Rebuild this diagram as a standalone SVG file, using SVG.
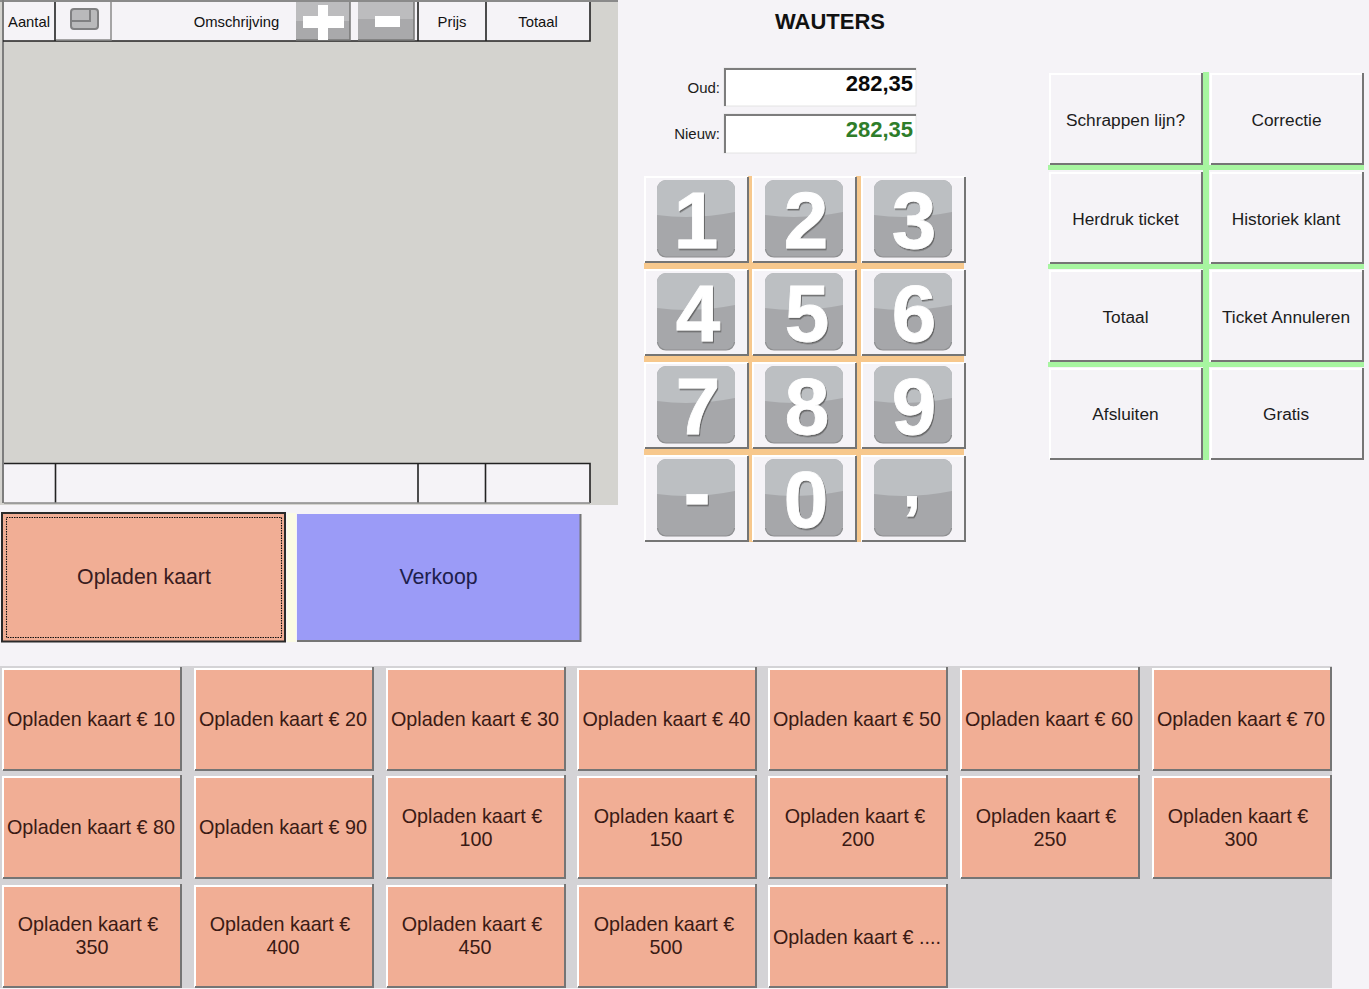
<svg xmlns="http://www.w3.org/2000/svg" xmlns:xlink="http://www.w3.org/1999/xlink" width="1369" height="989" viewBox="0 0 1369 989">
<style>
text{font-family:"Liberation Sans",Arial,sans-serif;text-anchor:middle}
.hd{font-size:14.800px;fill:#111}
.act{font-size:17.300px;fill:#1c1c1c}
.lbl{font-size:15px;fill:#1c1c1c;text-anchor:end}
.val{font-size:22px;font-weight:bold;text-anchor:end}
.big{font-size:21.300px;fill:#3a1c20}
.load{font-size:19.750px;fill:#3a1a14}
.dig{font-size:80px;font-weight:bold;fill:#fff;stroke:#fff;stroke-width:0.800;filter:url(#ds)}
.hi{fill:none;stroke:#fff;stroke-width:2}
.lo{fill:none;stroke:#757575;stroke-width:2}
.orange{fill:#f7c88d}
.green{fill:#a7f5a0}
.cell{fill:#f5f3f7}
.ln{stroke:#222;stroke-width:1.600;fill:none}
</style>
<defs>
<filter id="ds" x="-10%" y="-10%" width="125%" height="125%"><feDropShadow dx="1" dy="1.500" stdDeviation="0.700" flood-color="#555" flood-opacity="0.800"/></filter>
<g id="loadBtn"><rect width="178" height="101" fill="#f1ae95"/><path class="hi" d="M0 101V0H178"/><path class="lo" d="M0 101H178V-2"/></g>
<g id="actBtn"><rect width="152" height="90" class="cell"/><path class="hi" d="M0 90V0H152"/><path class="lo" d="M0 90H152V-1"/></g>
<g id="keyBg"><rect width="103" height="85" class="cell"/><path class="hi" d="M0 85V0H103"/><path class="lo" d="M0 85H103V0"/><rect x="12" y="3" width="78" height="77" rx="9" fill="#a6a7aa"/><path d="M12 38V12a9 9 0 0 1 9-9H81a9 9 0 0 1 9 9V35Q50 43 12 38Z" fill="#bcbfc2"/><path d="M12.500 72a8.500 8.500 0 0 0 8.500 8H81a8.500 8.500 0 0 0 8.500-8" fill="none" stroke="#8d8e90" stroke-width="1.200"/></g>
</defs>
<rect width="1369" height="989" fill="#f5f3f7"/>

<g id="ticket-panel">
<rect x="0" y="0" width="618" height="505" fill="#d4d3cf"/>
<rect x="0" y="0" width="618" height="2" fill="#8a8a8a"/>
<rect x="2" y="0" width="2" height="503" fill="#7d7d7d"/>
</g>
<g id="ticket-header">
<rect x="4" y="2" width="586" height="39" class="cell"/>
<path class="ln" d="M3 41H590V2M55 2V41M418 2V41M486 2V41"/>
<text class="hd" x="29" y="27">Aantal</text>
<text class="hd" x="236.500" y="27">Omschrijving</text>
<text class="hd" x="452" y="27">Prijs</text>
<text class="hd" x="538" y="27">Totaal</text>
</g>
<g id="btn-view">
<rect x="56" y="2" width="55" height="37" fill="#f5f3f7"/>
<path d="M56 40H111V2" fill="none" stroke="#8a8a8a" stroke-width="1.500"/>
<rect x="71" y="9" width="27" height="20" rx="3" fill="#b9b9bb" stroke="#808082" stroke-width="2"/>
<path d="M71 21H90V9" fill="none" stroke="#808082" stroke-width="2"/>
</g>
<g id="btn-plus">
<rect x="296" y="2" width="54" height="38" fill="#a9a9ab"/>
<rect x="296" y="2" width="54" height="19" fill="#bcbcbe"/>
<path d="M296 40H350V2" fill="none" stroke="#777" stroke-width="1.500"/>
<rect x="318" y="5" width="10" height="35" fill="#fff"/>
<rect x="303" y="16" width="41" height="12" fill="#fff"/>
</g>
<g id="btn-minus">
<rect x="358" y="2" width="56" height="38" fill="#a9a9ab"/>
<rect x="358" y="2" width="56" height="17" fill="#bcbcbe"/>
<path d="M358 40H414V2" fill="none" stroke="#777" stroke-width="1.500"/>
<rect x="375" y="16" width="25" height="11" fill="#fff"/>
</g>
<g id="ticket-footer">
<rect x="4" y="464" width="586" height="39" class="cell"/>
<path class="ln" d="M4 463.500H590V503M55.500 464V503M418 464V503M485.500 464V503"/>
<path d="M4 503H590" stroke="#8a8a8a" stroke-width="1.500"/>
</g>

<g id="btn-opladen-kaart">
<rect x="2" y="513" width="283" height="128.500" fill="#f1ae95" stroke="#2a2a2a" stroke-width="2"/>
<rect x="6.500" y="517.500" width="275" height="120" fill="none" stroke="#111" stroke-width="1.100" stroke-dasharray="1.500 1"/>
<text class="big" x="144" y="584">Opladen kaart</text>
</g>
<rect x="287" y="513" width="9" height="129" fill="#fbfbe4"/>
<g id="btn-verkoop">
<rect x="297" y="514" width="284" height="127" fill="#9b9bf7"/>
<path class="lo" d="M297 641H580.500V514"/>
<text class="big" x="438.500" y="584" style="fill:#1e1e4c">Verkoop</text>
</g>

<g id="title"><text x="830" y="29" font-size="22" font-weight="bold" fill="#111">WAUTERS</text></g>
<g id="field-oud">
<text class="lbl" x="720" y="93">Oud:</text>
<rect x="724" y="68" width="192" height="38" fill="#fff" stroke="#e4e4e4" stroke-width="1"/>
<path d="M725 106V69H916" fill="none" stroke="#7d7d7d" stroke-width="2"/>
<text class="val" x="913" y="91" fill="#0a0a0a">282,35</text>
</g>
<g id="field-nieuw">
<text class="lbl" x="720" y="139">Nieuw:</text>
<rect x="724" y="114" width="192" height="39" fill="#fff" stroke="#e4e4e4" stroke-width="1"/>
<path d="M725 153V115H916" fill="none" stroke="#7d7d7d" stroke-width="2"/>
<text class="val" x="913" y="137" fill="#2e7d2a">282,35</text>
</g>

<g id="keypad-lines">
<rect class="orange" x="747" y="176" width="6" height="366"/>
<rect class="orange" x="855" y="176" width="6" height="366"/>
<rect class="orange" x="644" y="263" width="320" height="6"/>
<rect class="orange" x="644" y="356" width="320" height="6"/>
<rect class="orange" x="644" y="449" width="320" height="6"/>
</g>
<g id="key-1"><use xlink:href="#keyBg" x="645" y="177"/><text class="dig" x="696" y="248">1</text></g>
<g id="key-2"><use xlink:href="#keyBg" x="753" y="177"/><text class="dig" x="806" y="248">2</text></g>
<g id="key-3"><use xlink:href="#keyBg" x="862" y="177"/><text class="dig" x="914" y="248">3</text></g>
<g id="key-4"><use xlink:href="#keyBg" x="645" y="270"/><text class="dig" x="698" y="341">4</text></g>
<g id="key-5"><use xlink:href="#keyBg" x="753" y="270"/><text class="dig" x="807" y="341">5</text></g>
<g id="key-6"><use xlink:href="#keyBg" x="862" y="270"/><text class="dig" x="914" y="341">6</text></g>
<g id="key-7"><use xlink:href="#keyBg" x="645" y="363"/><text class="dig" x="698" y="434">7</text></g>
<g id="key-8"><use xlink:href="#keyBg" x="753" y="363"/><text class="dig" x="807" y="434">8</text></g>
<g id="key-9"><use xlink:href="#keyBg" x="862" y="363"/><text class="dig" x="914" y="434">9</text></g>
<g id="key-minus"><use xlink:href="#keyBg" x="645" y="456"/><text class="dig" x="697" y="520">-</text></g>
<g id="key-0"><use xlink:href="#keyBg" x="753" y="456"/><text class="dig" x="806" y="527">0</text></g>
<g id="key-comma"><use xlink:href="#keyBg" x="862" y="456"/><text class="dig" x="912" y="506" style="font-size:64px">,</text></g>

<g id="action-lines">
<rect class="green" x="1203" y="72" width="6" height="388"/>
<rect class="green" x="1048" y="165" width="316" height="5"/>
<rect class="green" x="1048" y="264" width="316" height="5"/>
<rect class="green" x="1048" y="362" width="316" height="5"/>
</g>
<g id="act-schrappen"><use xlink:href="#actBtn" x="1050" y="74"/><text class="act" x="1125.500" y="126">Schrappen lijn?</text></g>
<g id="act-correctie"><use xlink:href="#actBtn" x="1211" y="74"/><text class="act" x="1286.500" y="126">Correctie</text></g>
<g id="act-herdruk"><use xlink:href="#actBtn" x="1050" y="173"/><text class="act" x="1125.500" y="225">Herdruk ticket</text></g>
<g id="act-historiek"><use xlink:href="#actBtn" x="1211" y="173"/><text class="act" x="1286" y="225">Historiek klant</text></g>
<g id="act-totaal"><use xlink:href="#actBtn" x="1050" y="271"/><text class="act" x="1125.500" y="323">Totaal</text></g>
<g id="act-annuleren"><use xlink:href="#actBtn" x="1211" y="271"/><text class="act" x="1286" y="323">Ticket Annuleren</text></g>
<g id="act-afsluiten"><use xlink:href="#actBtn" x="1050" y="369"/><text class="act" x="1125.500" y="420">Afsluiten</text></g>
<g id="act-gratis"><use xlink:href="#actBtn" x="1211" y="369"/><text class="act" x="1286" y="420">Gratis</text></g>

<g id="load-panel"><rect x="0" y="666" width="1332" height="322" fill="#d4d3d6"/></g>
<g id="load-10"><use xlink:href="#loadBtn" x="3" y="669"/><text class="load" x="91" y="726">Opladen kaart € 10</text></g>
<g id="load-20"><use xlink:href="#loadBtn" x="195" y="669"/><text class="load" x="283" y="726">Opladen kaart € 20</text></g>
<g id="load-30"><use xlink:href="#loadBtn" x="387" y="669"/><text class="load" x="475" y="726">Opladen kaart € 30</text></g>
<g id="load-40"><use xlink:href="#loadBtn" x="578" y="669"/><text class="load" x="666.500" y="726">Opladen kaart € 40</text></g>
<g id="load-50"><use xlink:href="#loadBtn" x="769" y="669"/><text class="load" x="857" y="726">Opladen kaart € 50</text></g>
<g id="load-60"><use xlink:href="#loadBtn" x="961" y="669"/><text class="load" x="1049" y="726">Opladen kaart € 60</text></g>
<g id="load-70"><use xlink:href="#loadBtn" x="1153" y="669"/><text class="load" x="1241" y="726">Opladen kaart € 70</text></g>
<g id="load-80"><use xlink:href="#loadBtn" x="3" y="777"/><text class="load" x="91" y="834">Opladen kaart € 80</text></g>
<g id="load-90"><use xlink:href="#loadBtn" x="195" y="777"/><text class="load" x="283" y="834">Opladen kaart € 90</text></g>
<g id="load-100"><use xlink:href="#loadBtn" x="387" y="777"/><text class="load" x="472" y="823">Opladen kaart €</text><text class="load" x="476" y="846">100</text></g>
<g id="load-150"><use xlink:href="#loadBtn" x="578" y="777"/><text class="load" x="664" y="823">Opladen kaart €</text><text class="load" x="666" y="846">150</text></g>
<g id="load-200"><use xlink:href="#loadBtn" x="769" y="777"/><text class="load" x="855" y="823">Opladen kaart €</text><text class="load" x="858" y="846">200</text></g>
<g id="load-250"><use xlink:href="#loadBtn" x="961" y="777"/><text class="load" x="1046" y="823">Opladen kaart €</text><text class="load" x="1050" y="846">250</text></g>
<g id="load-300"><use xlink:href="#loadBtn" x="1153" y="777"/><text class="load" x="1238" y="823">Opladen kaart €</text><text class="load" x="1241" y="846">300</text></g>
<g id="load-350"><use xlink:href="#loadBtn" x="3" y="886"/><text class="load" x="88" y="931">Opladen kaart €</text><text class="load" x="92" y="954">350</text></g>
<g id="load-400"><use xlink:href="#loadBtn" x="195" y="886"/><text class="load" x="280" y="931">Opladen kaart €</text><text class="load" x="283" y="954">400</text></g>
<g id="load-450"><use xlink:href="#loadBtn" x="387" y="886"/><text class="load" x="472" y="931">Opladen kaart €</text><text class="load" x="475" y="954">450</text></g>
<g id="load-500"><use xlink:href="#loadBtn" x="578" y="886"/><text class="load" x="664" y="931">Opladen kaart €</text><text class="load" x="666" y="954">500</text></g>
<g id="load-more"><use xlink:href="#loadBtn" x="769" y="886"/><text class="load" x="857" y="944">Opladen kaart € ....</text></g>
<g id="connectors"/>
</svg>
